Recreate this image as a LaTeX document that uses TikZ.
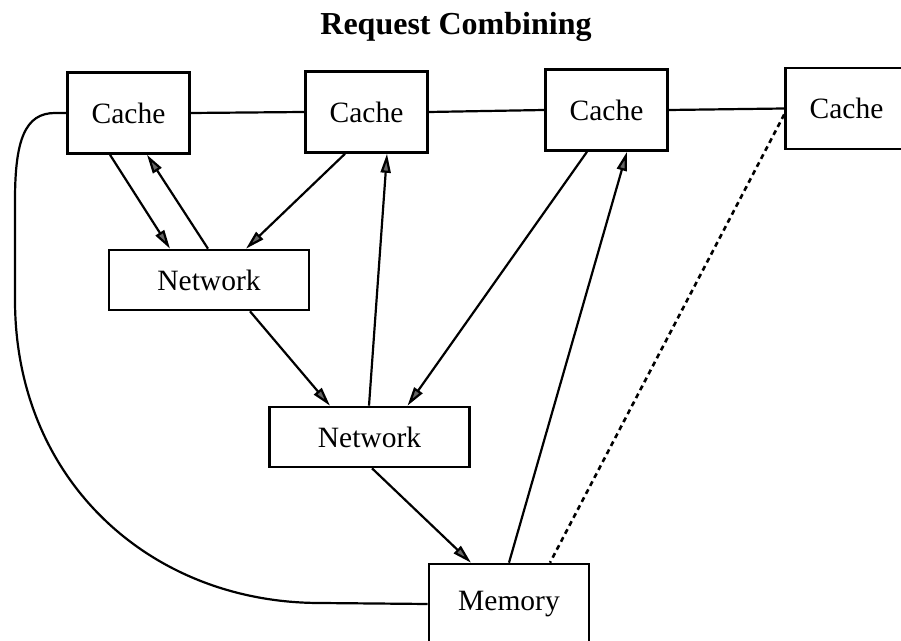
\documentclass[tikz,border=0pt]{standalone}
\usepackage{fontspec}
\setmainfont{Liberation Serif}
\usetikzlibrary{arrows.meta, calc}

\begin{document}
\begin{tikzpicture}[x=0.5pt, y=-0.5pt, >={Triangle[length=9.5pt, width=5pt, fill=black!60]},
  box/.style={draw, line width=1.3pt, minimum width=61pt, minimum height=40.5pt,
              inner sep=0pt, font=\fontsize{14.75}{17}\selectfont},
  link/.style={line width=1.1pt},
  hint/.style={line width=1.3pt, dash pattern=on 2.5pt off 2pt}]
  \useasboundingbox (0,0) rectangle (901,641);
  % Title
  \node[font=\fontsize{16}{19}\selectfont\bfseries] (title) at (456,27) {Request Combining};
  % Caches
  \node[box] (c1) at (128.5,113) {Cache};
  \node[box] (c2) at (366.5,112) {Cache};
  \node[box] (c3) at (606.5,110) {Cache};
  \node[box] (c4) at (846.5,108.5) {Cache};
  % Networks and memory
  \node[box, minimum width=100pt, minimum height=30pt] (net1) at (209,280) {Network};
  \node[box, minimum width=100pt, minimum height=30pt] (net2) at (369.5,437) {Network};
  \node[box, minimum width=80pt, minimum height=40pt] (mem) at (509,604) {Memory};
  % Cache bus
  \draw[link] (c1.east) -- (c2.west);
  \draw[link] (c2.east) -- (c3.west);
  \draw[link] (c3.east) -- (c4.west);
  \draw[link] (c1.west) -- (55,113) .. controls (25,113) and (15,140) .. (15,200)
    -- (15,300) .. controls (15,480) and (150,603) .. (320,603) -- (mem.west);
  \draw[hint] ($(c4.west)+(0,6)$) -- ($(mem.north)+(41,0)$);
  % Requests and replies
  \draw[link, ->] ($(c1.south)+(-18.5,0)$) -- ($(net1.north)+(-39,0)$);
  \draw[link, ->] ($(net1.north)+(-1,0)$) -- ($(c1.south)+(18.5,0)$);
  \draw[link, ->] ($(c2.south)+(-21.5,0)$) -- ($(net1.north)+(37,0)$);
  \draw[link, ->] ($(net2.north)+(-0.5,0)$) -- ($(c2.south)+(20.5,0)$);
  \draw[link, ->] ($(net1.south)+(41,0)$) -- ($(net2.north)+(-39.5,0)$);
  \draw[link, ->] ($(c3.south)+(-19.5,0)$) -- ($(net2.north)+(38,0)$);
  \draw[link, ->] (mem.north) -- ($(c3.south)+(20.5,0)$);
  \draw[link, ->] ($(net2.south)+(2.5,0)$) -- ($(mem.north)+(-38,0)$);
\end{tikzpicture}
\end{document}
